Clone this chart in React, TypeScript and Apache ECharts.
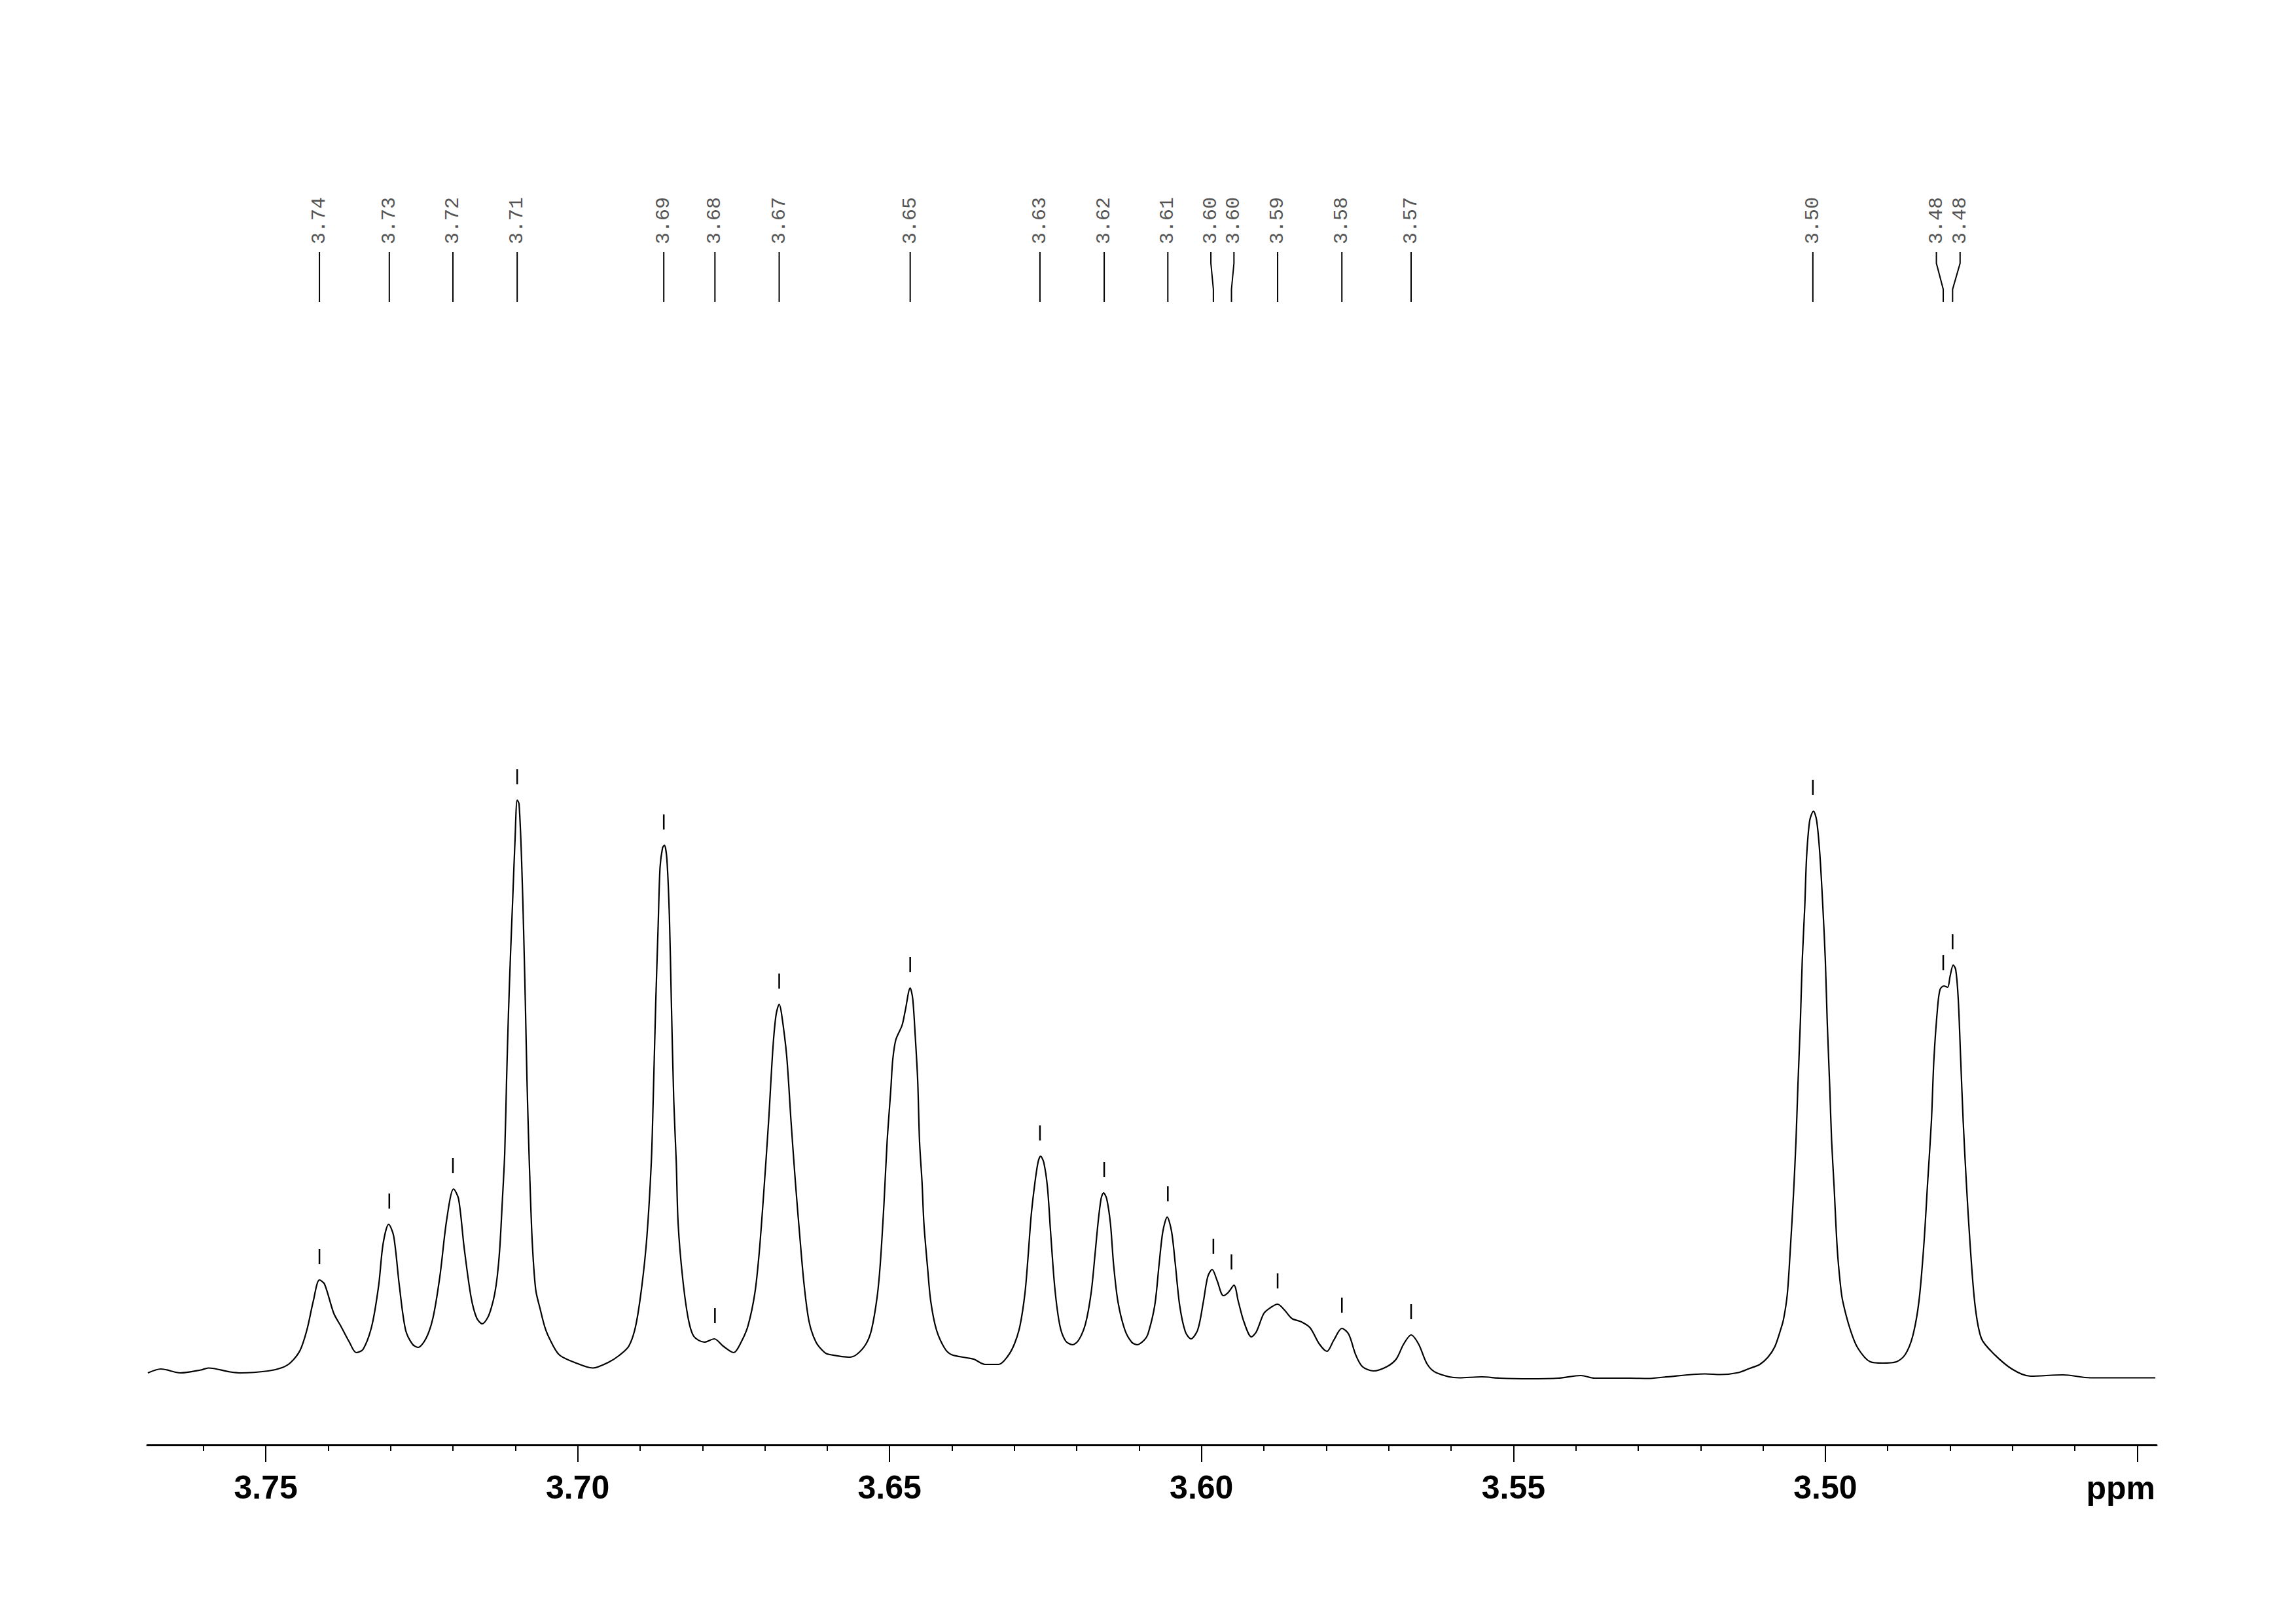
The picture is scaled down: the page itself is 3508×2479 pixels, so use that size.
import React, { useEffect, useRef } from "react";
import * as echarts from "echarts";

// Spectrum trace, [ppm, intensity] pairs, left to right
const seg1 = [[3.7689,3],[3.7668,9],[3.7637,3],[3.7604,7.5],[3.7592,10.5],[3.7557,4.5],[3.7539,3],[3.7496,6],[3.7474,11],[3.7460,19],[3.7445,37.5],[3.7434,69],[3.7424,112],[3.7414,145],[3.7406,139],[3.7391,94],[3.7380,75],[3.7366,50],[3.7355,34],[3.7344,39],[3.7330,75],[3.7319,137],[3.7312,200],[3.7303,230],[3.7295,212],[3.7286,137],[3.7276,69],[3.7265,47],[3.7256,42],[3.7243,56],[3.7232,87],[3.7221,150],[3.7210,237],[3.7199,284],[3.7191,269],[3.7182,194],[3.7171,119],[3.7162,87],[3.7153,78]];
const seg2 = [[3.7144,88],[3.7138,104],[3.7133,124],[3.7129,150],[3.7125,192],[3.7121,262],[3.7117,338],[3.7114,451],[3.7111,552],[3.71075,647],[3.7104,731],[3.71005,816],[3.7097,878],[3.7094,872],[3.7090,788],[3.70866,675],[3.70838,563],[3.70813,451],[3.70789,366],[3.70761,282],[3.70726,198],[3.70673,130],[3.7060,100],[3.7053,74],[3.7046,57],[3.7030,31],[3.7005,19],[3.6976,10.5],[3.6951,19],[3.6933,30],[3.6918,44],[3.6907,75],[3.6897,137],[3.6889,212],[3.6882,325],[3.6879,419],[3.6875,565],[3.6871,687],[3.6868,775],[3.6864,805],[3.6861,809],[3.6857,787],[3.6853,700],[3.6850,575],[3.6846,419],[3.6842,325],[3.6839,231],[3.6832,150],[3.6823,87],[3.6814,59],[3.6797,50],[3.6781,55],[3.6767,44],[3.6750,34],[3.6738,50],[3.6727,75],[3.6716,125],[3.6709,187],[3.6702,275],[3.6694,387],[3.6687,500],[3.6682,550],[3.6677,566],[3.6673,550],[3.6665,487],[3.6658,387],[3.6651,294],[3.6644,212],[3.6637,137],[3.6629,81],[3.6618,50],[3.6604,34]];
const seg3 = [[3.6596,31],[3.6565,27],[3.6553,31],[3.6538,47],[3.6529,69],[3.6520,119],[3.6515,169],[3.6509,262],[3.6504,356],[3.6498,437],[3.6495,481],[3.6490,512],[3.6480,534],[3.6475,556],[3.6467,591],[3.6463,575],[3.6459,519],[3.6455,450],[3.6452,356],[3.6448,294],[3.6445,231],[3.6439,162],[3.6434,112],[3.6425,69],[3.6412,41],[3.6401,31],[3.6376,26],[3.6365,24],[3.6347,16],[3.6325,16],[3.6311,28],[3.6300,47],[3.6291,75],[3.6283,125],[3.6278,181],[3.6273,244],[3.6267,294],[3.6262,325],[3.6258,334],[3.6253,325],[3.6247,287],[3.6242,219],[3.6235,131],[3.6227,75],[3.6218,52],[3.6207,46],[3.6197,53],[3.6186,78],[3.6177,125],[3.6171,181],[3.6166,231],[3.6161,269],[3.6157,278],[3.6152,269],[3.6146,231],[3.6141,169],[3.6134,112],[3.6123,69],[3.6112,50],[3.6103,46],[3.6092,53]];
const seg4 = [[3.6086,62],[3.6075,106],[3.6068,169],[3.6062,219],[3.6055,241],[3.6048,219],[3.6042,169],[3.6035,106],[3.6026,66],[3.6017,55],[3.6006,69],[3.5997,112],[3.5990,150],[3.5983,161],[3.5975,144],[3.5965,121],[3.5957,126],[3.5948,137],[3.5941,112],[3.5932,81],[3.5920,58],[3.5912,66],[3.5900,94],[3.5889,103],[3.5878,108],[3.5867,99],[3.5855,86],[3.5840,81],[3.5826,72],[3.5811,47],[3.5799,36],[3.5788,53],[3.5775,71],[3.5764,62],[3.5753,31],[3.5742,12.5],[3.5724,6],[3.5703,12.5],[3.5688,24],[3.5676,47],[3.5664,61],[3.5652,47],[3.5638,16],[3.5623,3],[3.5587,-4.5],[3.5551,-3]];
const seg5 = [[3.5522,-5],[3.5475,-6],[3.5428,-5],[3.5392,-1],[3.5370,-5],[3.5313,-5],[3.5284,-5.5],[3.5259,-3.5],[3.5193,1.5],[3.5168,0.5],[3.5139,3.5],[3.5121,10],[3.5105,16],[3.5092,27],[3.5081,43],[3.5072,68]];
const seg6 = [[3.5067,85],[3.5061,123],[3.5056,194],[3.5051,277],[3.5047,359],[3.5044,441],[3.5040,540],[3.5037,633],[3.5033,715],[3.5030,792],[3.5025,847],[3.5019,861],[3.5014,847],[3.5009,798],[3.5004,715],[3.5000,633],[3.4997,540],[3.4993,441],[3.4990,359],[3.4986,288],[3.4981,194],[3.4976,139],[3.4972,112],[3.4960,69],[3.4948,41],[3.4928,20],[3.4908,18],[3.4886,20],[3.4872,31],[3.4860,59],[3.4850,112],[3.4842,200],[3.4836,294],[3.4830,387],[3.4826,481],[3.4820,562],[3.4816,589],[3.4810,594],[3.4804,592],[3.4800,609],[3.4795,626],[3.4791,619],[3.4787,575],[3.4783,481],[3.4779,387],[3.4774,294],[3.4768,200],[3.4760,106],[3.4750,56],[3.4732,34],[3.4701,9],[3.4671,-2],[3.4619,0],[3.4575,-4.5],[3.4523,-4.5],[3.4471,-4.5]];

// Picked peaks
const peakPpm = [3.7414,3.7302,3.7200,3.7097,3.6862,3.6780,3.6677,3.6467,3.6259,3.6156,3.6054,3.5981,3.5952,3.5878,3.5775,3.5664,3.5020,3.4811,3.4796];
const peakHeight = [145,230,284,878,809,55,566,591,334,278,241,161,137,108,71,61,862,594,626];
const peakLabels = ["3.74","3.73","3.72","3.71","3.69","3.68","3.67","3.65","3.63","3.62","3.61","3.60","3.60","3.59","3.58","3.57","3.50","3.48","3.48"];
const labelPpm = [3.7414,3.7302,3.7200,3.7097,3.6862,3.6780,3.6677,3.6467,3.6259,3.6156,3.6054,3.5985,3.5948,3.5878,3.5775,3.5664,3.5020,3.4822,3.4784];

// Axis
const xMin = 3.4469;
const xMax = 3.7690;
const majorTicks = [3.75, 3.70, 3.65, 3.60, 3.55, 3.50, 3.45];
const tickLabels = [3.75, 3.70, 3.65, 3.60, 3.55, 3.50];
const minorTicks = [3.76,3.74,3.73,3.72,3.71,3.69,3.68,3.67,3.66,3.64,3.63,3.62,3.61,3.59,3.58,3.57,3.56,3.54,3.53,3.52,3.51,3.49,3.48,3.47,3.46];
const axisUnit = "ppm";

export default function App() {
  const ref = useRef<HTMLDivElement>(null);
  useEffect(() => {
    document.body.style.margin = "0";
    if (!ref.current) return;
    const chart = echarts.init(ref.current, null, { renderer: "svg" });
    const spectrum = [...seg1, ...seg2, ...seg3, ...seg4, ...seg5, ...seg6];
    const option: any = {
      animation: false,
      backgroundColor: "#ffffff",
      grid: { left: 225, right: 213, top: 1100, bottom: 272 },
      xAxis: [
        {
          type: "value",
          min: xMin,
          max: xMax,
          inverse: true,
          position: "bottom",
          axisLine: { show: true, onZero: false, lineStyle: { color: "#000", width: 3 } },
          axisTick: { show: true, customValues: majorTicks, length: 26, lineStyle: { color: "#000", width: 2 } },
          axisLabel: {
            show: true,
            customValues: tickLabels,
            formatter: (v: number) => v.toFixed(2),
            fontFamily: "'Liberation Sans', Arial, sans-serif",
            fontWeight: "bold",
            fontSize: 50,
            color: "#000",
            margin: 40,
          },
          splitLine: { show: false },
        },
        {
          type: "value",
          min: xMin,
          max: xMax,
          inverse: true,
          position: "bottom",
          axisLine: { show: false, onZero: false },
          axisTick: { show: true, customValues: minorTicks, length: 9, lineStyle: { color: "#000", width: 2 } },
          axisLabel: { show: false },
          splitLine: { show: false },
        },
      ],
      yAxis: { type: "value", min: -107, max: 1000, show: false },
      graphic: [
        {
          type: "text",
          x: 3293,
          y: 2273,
          style: {
            text: axisUnit,
            font: "bold 50px 'Liberation Sans', Arial, sans-serif",
            fill: "#000",
            align: "right",
            verticalAlign: "middle",
          },
        },
      ],
      series: [
        {
          type: "line",
          data: spectrum,
          xAxisIndex: 0,
          showSymbol: false,
          smooth: 0.3,
          lineStyle: { color: "#000", width: 2.2 },
          clip: false,
        },
        {
          type: "custom",
          xAxisIndex: 0,
          clip: false,
          data: peakPpm.map((p, i) => [p, peakHeight[i]]),
          renderItem: (params: any, api: any) => {
            const a = api.coord([api.value(0), api.value(1) + 24]);
            const b = api.coord([api.value(0), api.value(1) + 47]);
            return {
              type: "line",
              shape: { x1: a[0], y1: a[1], x2: b[0], y2: b[1] },
              style: { stroke: "#000", lineWidth: 2.5 },
            };
          },
        },
        {
          type: "custom",
          xAxisIndex: 0,
          clip: false,
          data: peakPpm.map((p, i) => [labelPpm[i], p]),
          renderItem: (params: any, api: any) => {
            const xl = api.coord([api.value(0), 0])[0];
            const xp = api.coord([api.value(1), 0])[0];
            const idx = params.dataIndex;
            return {
              type: "group",
              children: [
                {
                  type: "polyline",
                  shape: { points: [[xl, 385], [xl, 402], [xp, 442], [xp, 461]] },
                  style: { stroke: "#000", lineWidth: 2, fill: null },
                },
                {
                  type: "text",
                  x: xl,
                  y: 373,
                  rotation: Math.PI / 2,
                  style: {
                    text: peakLabels[idx],
                    font: "30px 'Liberation Mono', 'DejaVu Sans Mono', monospace",
                    fill: "#555",
                    align: "left",
                    verticalAlign: "middle",
                  },
                },
              ],
            };
          },
        },
      ],
    };
    chart.setOption(option);
    return () => chart.dispose();
  }, []);
  return <div ref={ref} style={{ width: 3508, height: 2479 }} />;
}
